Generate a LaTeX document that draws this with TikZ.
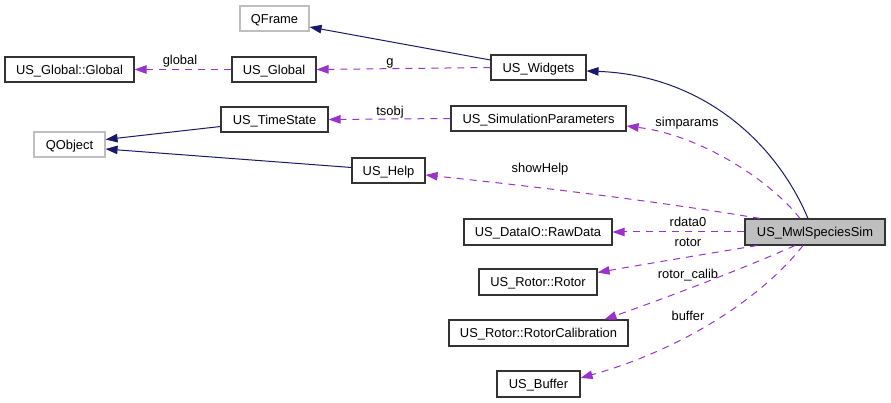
\documentclass[tikz,border=0pt]{standalone}
\usepackage{fontspec}
\setmainfont{Liberation Sans}
\usetikzlibrary{arrows.meta}
\definecolor{navyc}{HTML}{191970}
\definecolor{purp}{HTML}{9A32CD}
\definecolor{grayb}{HTML}{BFBFBF}
\begin{document}
\begin{tikzpicture}[x=1pt,y=-1pt,
  every node/.style={font=\fontsize{12.9}{15}\selectfont, inner sep=0pt, text height=9.2pt, text depth=0pt},
  cls/.style={draw=black!80, line width=1.1pt, rectangle, minimum height=25pt},
  ext/.style={draw=grayb, line width=1.1pt, rectangle, minimum height=25pt},
  inh/.style={draw=navyc, line width=1pt, -{Triangle[length=12pt,width=8.5pt]}, color=navyc},
  use/.style={draw=purp, line width=1pt, dash pattern=on 7pt off 6pt, -{Triangle[length=12pt,width=8.5pt]}, color=purp},
  lbl/.style={}]
\useasboundingbox (0,0) rectangle (891,403);
% nodes
\node[ext, minimum width=69pt] (qframe) at (274.5,18.5) {QFrame};
\node[cls, minimum width=129pt] (gglobal) at (69.5,69.5) {US\_Global::Global};
\node[cls, minimum width=84pt] (usglobal) at (274,69.5) {US\_Global};
\node[cls, minimum width=95pt] (widgets) at (538.5,67.5) {US\_Widgets};
\node[cls, minimum width=107pt] (timestate) at (274.5,119.5) {US\_TimeState};
\node[cls, minimum width=175pt] (simparams) at (538.5,118.5) {US\_SimulationParameters};
\node[ext, minimum width=71pt] (qobject) at (69.5,144.5) {QObject};
\node[cls, minimum width=73pt] (help) at (388.5,170.5) {US\_Help};
\node[cls, minimum width=140pt, minimum height=26pt, fill=grayb] (mwl) at (815,232) {US\_MwlSpeciesSim};
\node[cls, minimum width=148pt, minimum height=26pt] (rawdata) at (538,232) {US\_DataIO::RawData};
\node[cls, minimum width=118pt, minimum height=26pt] (rotor) at (538,282) {US\_Rotor::Rotor};
\node[cls, minimum width=179pt, minimum height=26pt] (rotorcal) at (538.5,333) {US\_Rotor::RotorCalibration};
\node[cls, minimum width=83pt, minimum height=26pt] (buffer) at (538.5,384) {US\_Buffer};
% labels
\node[lbl] (lglobal) at (180,60) {global};
\node[lbl] (lg) at (390,60.5) {g};
\node[lbl] (ltsobj) at (390,111) {tsobj};
\node[lbl] (lsimparams) at (687,121.5) {simparams};
\node[lbl] (lshowhelp) at (540,167.5) {showHelp};
\node[lbl] (lrdata0) at (688,222) {rdata0};
\node[lbl] (lrotor) at (688,242) {rotor};
\node[lbl] (lrotorcalib) at (688,274) {rotor\_calib};
\node[lbl] (lbuffer) at (688,315.5) {buffer};
% inheritance
\draw[inh] ([yshift=7.5pt]widgets.west) -- ([yshift=-8.5pt]qframe.east);
\draw[inh] ([yshift=-7pt]timestate.west) -- ([yshift=5pt]qobject.east);
\draw[inh] ([yshift=3pt]help.west) -- ([yshift=-4.5pt]qobject.east);
\draw[inh] ([xshift=-7pt]mwl.north) .. controls (775,140) and (700,75) .. ([yshift=-3.5pt]widgets.east);
% usage
\draw[use] (usglobal.west) -- (gglobal.east);
\draw[use] (widgets.west) -- (usglobal.east);
\draw[use] (simparams.west) -- (timestate.east);
\draw[use] ([xshift=-15pt]mwl.north) .. controls (770,180) and (700,135) .. ([yshift=-7.5pt]simparams.east);
\draw[use] ([xshift=-55pt]mwl.north) .. controls (650,200) and (520,185) .. ([yshift=-4.5pt]help.east);
\draw[use] (mwl.west) -- (rawdata.east);
\draw[use] ([xshift=-58pt]mwl.south) .. controls (700,255) and (640,265) .. ([yshift=9.5pt]rotor.east);
\draw[use] ([xshift=-20pt]mwl.south) .. controls (740,270) and (660,300) .. ([xshift=66pt]rotorcal.north);
\draw[use] ([xshift=-12pt]mwl.south) .. controls (760,300) and (680,350) .. ([yshift=6pt]buffer.east);
\end{tikzpicture}
\end{document}
